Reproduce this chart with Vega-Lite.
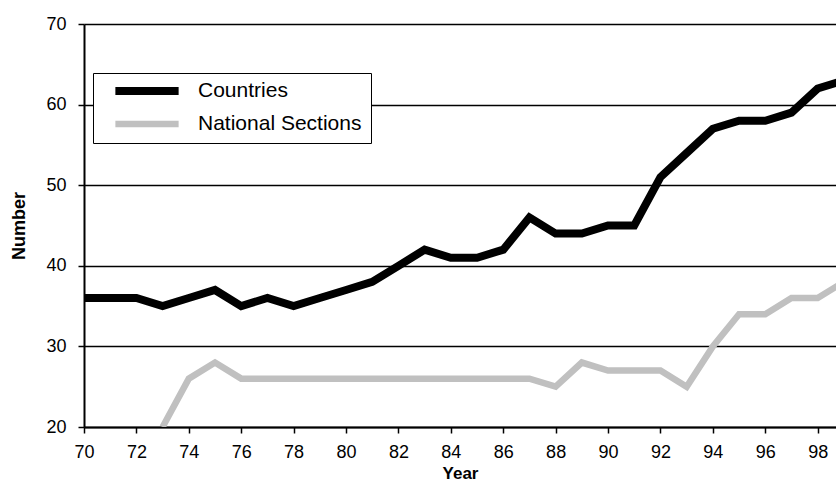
{
  "$schema": "https://vega.github.io/schema/vega-lite/v6.json",
  "autosize": {"type": "none"},
  "padding": {"left": 84, "top": 24, "right": 0, "bottom": 59},
  "width": 752,
  "height": 403,
  "background": "white",
  "config": {
    "font": "Liberation Sans",
    "view": {"stroke": null}
  },
  "data": {
    "values": [
      {"year": 70, "series": "Countries", "value": 36},
      {"year": 71, "series": "Countries", "value": 36},
      {"year": 72, "series": "Countries", "value": 36},
      {"year": 73, "series": "Countries", "value": 35},
      {"year": 74, "series": "Countries", "value": 36},
      {"year": 75, "series": "Countries", "value": 37},
      {"year": 76, "series": "Countries", "value": 35},
      {"year": 77, "series": "Countries", "value": 36},
      {"year": 78, "series": "Countries", "value": 35},
      {"year": 79, "series": "Countries", "value": 36},
      {"year": 80, "series": "Countries", "value": 37},
      {"year": 81, "series": "Countries", "value": 38},
      {"year": 82, "series": "Countries", "value": 40},
      {"year": 83, "series": "Countries", "value": 42},
      {"year": 84, "series": "Countries", "value": 41},
      {"year": 85, "series": "Countries", "value": 41},
      {"year": 86, "series": "Countries", "value": 42},
      {"year": 87, "series": "Countries", "value": 46},
      {"year": 88, "series": "Countries", "value": 44},
      {"year": 89, "series": "Countries", "value": 44},
      {"year": 90, "series": "Countries", "value": 45},
      {"year": 91, "series": "Countries", "value": 45},
      {"year": 92, "series": "Countries", "value": 51},
      {"year": 93, "series": "Countries", "value": 54},
      {"year": 94, "series": "Countries", "value": 57},
      {"year": 95, "series": "Countries", "value": 58},
      {"year": 96, "series": "Countries", "value": 58},
      {"year": 97, "series": "Countries", "value": 59},
      {"year": 98, "series": "Countries", "value": 62},
      {"year": 99, "series": "Countries", "value": 63},
      {"year": 73, "series": "National Sections", "value": 20},
      {"year": 74, "series": "National Sections", "value": 26},
      {"year": 75, "series": "National Sections", "value": 28},
      {"year": 76, "series": "National Sections", "value": 26},
      {"year": 77, "series": "National Sections", "value": 26},
      {"year": 78, "series": "National Sections", "value": 26},
      {"year": 79, "series": "National Sections", "value": 26},
      {"year": 80, "series": "National Sections", "value": 26},
      {"year": 81, "series": "National Sections", "value": 26},
      {"year": 82, "series": "National Sections", "value": 26},
      {"year": 83, "series": "National Sections", "value": 26},
      {"year": 84, "series": "National Sections", "value": 26},
      {"year": 85, "series": "National Sections", "value": 26},
      {"year": 86, "series": "National Sections", "value": 26},
      {"year": 87, "series": "National Sections", "value": 26},
      {"year": 88, "series": "National Sections", "value": 25},
      {"year": 89, "series": "National Sections", "value": 28},
      {"year": 90, "series": "National Sections", "value": 27},
      {"year": 91, "series": "National Sections", "value": 27},
      {"year": 92, "series": "National Sections", "value": 27},
      {"year": 93, "series": "National Sections", "value": 25},
      {"year": 94, "series": "National Sections", "value": 30},
      {"year": 95, "series": "National Sections", "value": 34},
      {"year": 96, "series": "National Sections", "value": 34},
      {"year": 97, "series": "National Sections", "value": 36},
      {"year": 98, "series": "National Sections", "value": 36},
      {"year": 99, "series": "National Sections", "value": 38}
    ]
  },
  "mark": {"type": "line", "clip": true, "strokeJoin": "miter"},
  "encoding": {
    "x": {
      "field": "year",
      "type": "quantitative",
      "scale": {"domain": [70, 98.7], "nice": false, "zero": false},
      "axis": {
        "title": "Year",
        "values": [70, 72, 74, 76, 78, 80, 82, 84, 86, 88, 90, 92, 94, 96, 98],
        "grid": false,
        "labelFlush": false,
        "labelOverlap": false,
        "domainColor": "black",
        "domainWidth": 2,
        "tickColor": "black",
        "tickWidth": 1.5,
        "tickSize": 6,
        "labelFontSize": 18,
        "labelColor": "black",
        "labelPadding": 10,
        "titleFontSize": 17,
        "titleFontWeight": "bold",
        "titleColor": "black",
        "titlePadding": 4
      }
    },
    "y": {
      "field": "value",
      "type": "quantitative",
      "scale": {"domain": [20, 70], "nice": false, "zero": false},
      "axis": {
        "title": "Number",
        "values": [20, 30, 40, 50, 60, 70],
        "grid": true,
        "labelFlush": false,
        "gridColor": "black",
        "gridWidth": 1.5,
        "gridOpacity": 1,
        "domainColor": "black",
        "domainWidth": 2,
        "tickColor": "black",
        "tickWidth": 1.5,
        "tickSize": 6,
        "labelFontSize": 18,
        "labelColor": "black",
        "labelPadding": 12,
        "titleFontSize": 18,
        "titleFontWeight": "bold",
        "titleColor": "black",
        "titlePadding": 17
      }
    },
    "color": {
      "field": "series",
      "type": "nominal",
      "scale": {"domain": ["Countries", "National Sections"], "range": ["#000000", "#c0c0c0"]},
      "legend": {
        "title": null,
        "orient": "none",
        "legendX": 9,
        "legendY": 49,
        "symbolType": "stroke",
        "symbolSize": 4000,
        "symbolStrokeWidth": 6,
        "symbolOffset": 9,
        "clipHeight": 18,
        "labelFontSize": 21,
        "labelLimit": 400,
        "labelColor": "black",
        "labelOffset": 15,
        "rowPadding": 12,
        "padding": 9,
        "strokeColor": "black",
        "fillColor": "white",
        "legendStrokeWidth": 2
      }
    },
    "strokeWidth": {
      "field": "series",
      "type": "nominal",
      "scale": {"domain": ["Countries", "National Sections"], "range": [8, 6.5]},
      "legend": null
    }
  }
}
